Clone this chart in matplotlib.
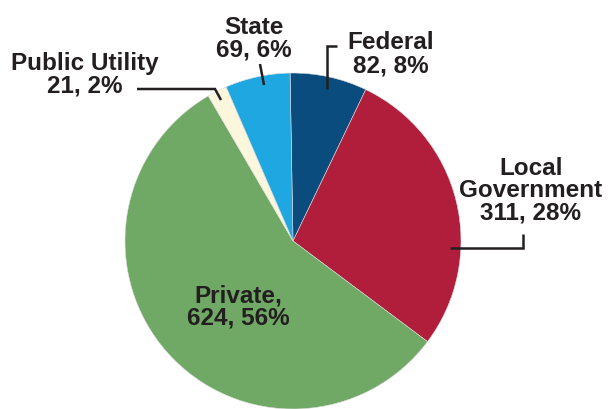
import matplotlib.pyplot as plt

# slices, clockwise from the top
labels = ["Federal", "Local\nGovernment", "Private,", "Public Utility", "State"]
values = [82, 311, 624, 21, 69]
percents = [8, 28, 56, 2, 6]
colors = ["#0a4c7d", "#b01e3b", "#70a865", "#fbf6dc", "#1ea7e0"]

W, H = 610, 410


def Y(y):
    # picture rows -> data y
    return H - y


fig = plt.figure(figsize=(6.1, 4.1), dpi=100)
ax = fig.add_axes([0, 0, 1, 1])

ax.pie(
    values,
    colors=colors,
    startangle=91,
    counterclock=False,
    center=(293, Y(242)),
    radius=168,
    wedgeprops=dict(linewidth=0.4, edgecolor="#dddddd"),
)
ax.set_xlim(0, W)
ax.set_ylim(0, H)
ax.set_aspect("equal")
ax.axis("off")

txt = dict(fontsize=17.5, fontweight="bold", family="Liberation Sans",
           color="#231f20", ha="center", va="baseline", linespacing=0.98)

# label text at the last line's baseline
label_pos = [(391, 72), (531, 220), (238, 325), (85, 93), (254, 57)]
for lab, v, p, (x, y) in zip(labels, values, percents, label_pos):
    ax.text(x, Y(y), f"{lab}\n{v}, {p}%", **txt)

# leader lines
leaders = [
    [(337, 47), (327, 47), (327, 90)],
    [(523, 235), (523, 249), (450, 249)],
    [(137, 90), (215, 90), (221, 101)],
    [(260, 65), (264, 86)],
]
for pts in leaders:
    xs = [p[0] for p in pts]
    ys = [Y(p[1]) for p in pts]
    ax.plot(xs, ys, color="#231f20", lw=1.8, solid_joinstyle="miter",
            solid_capstyle="butt")

fig.savefig("out.png", dpi=100)
